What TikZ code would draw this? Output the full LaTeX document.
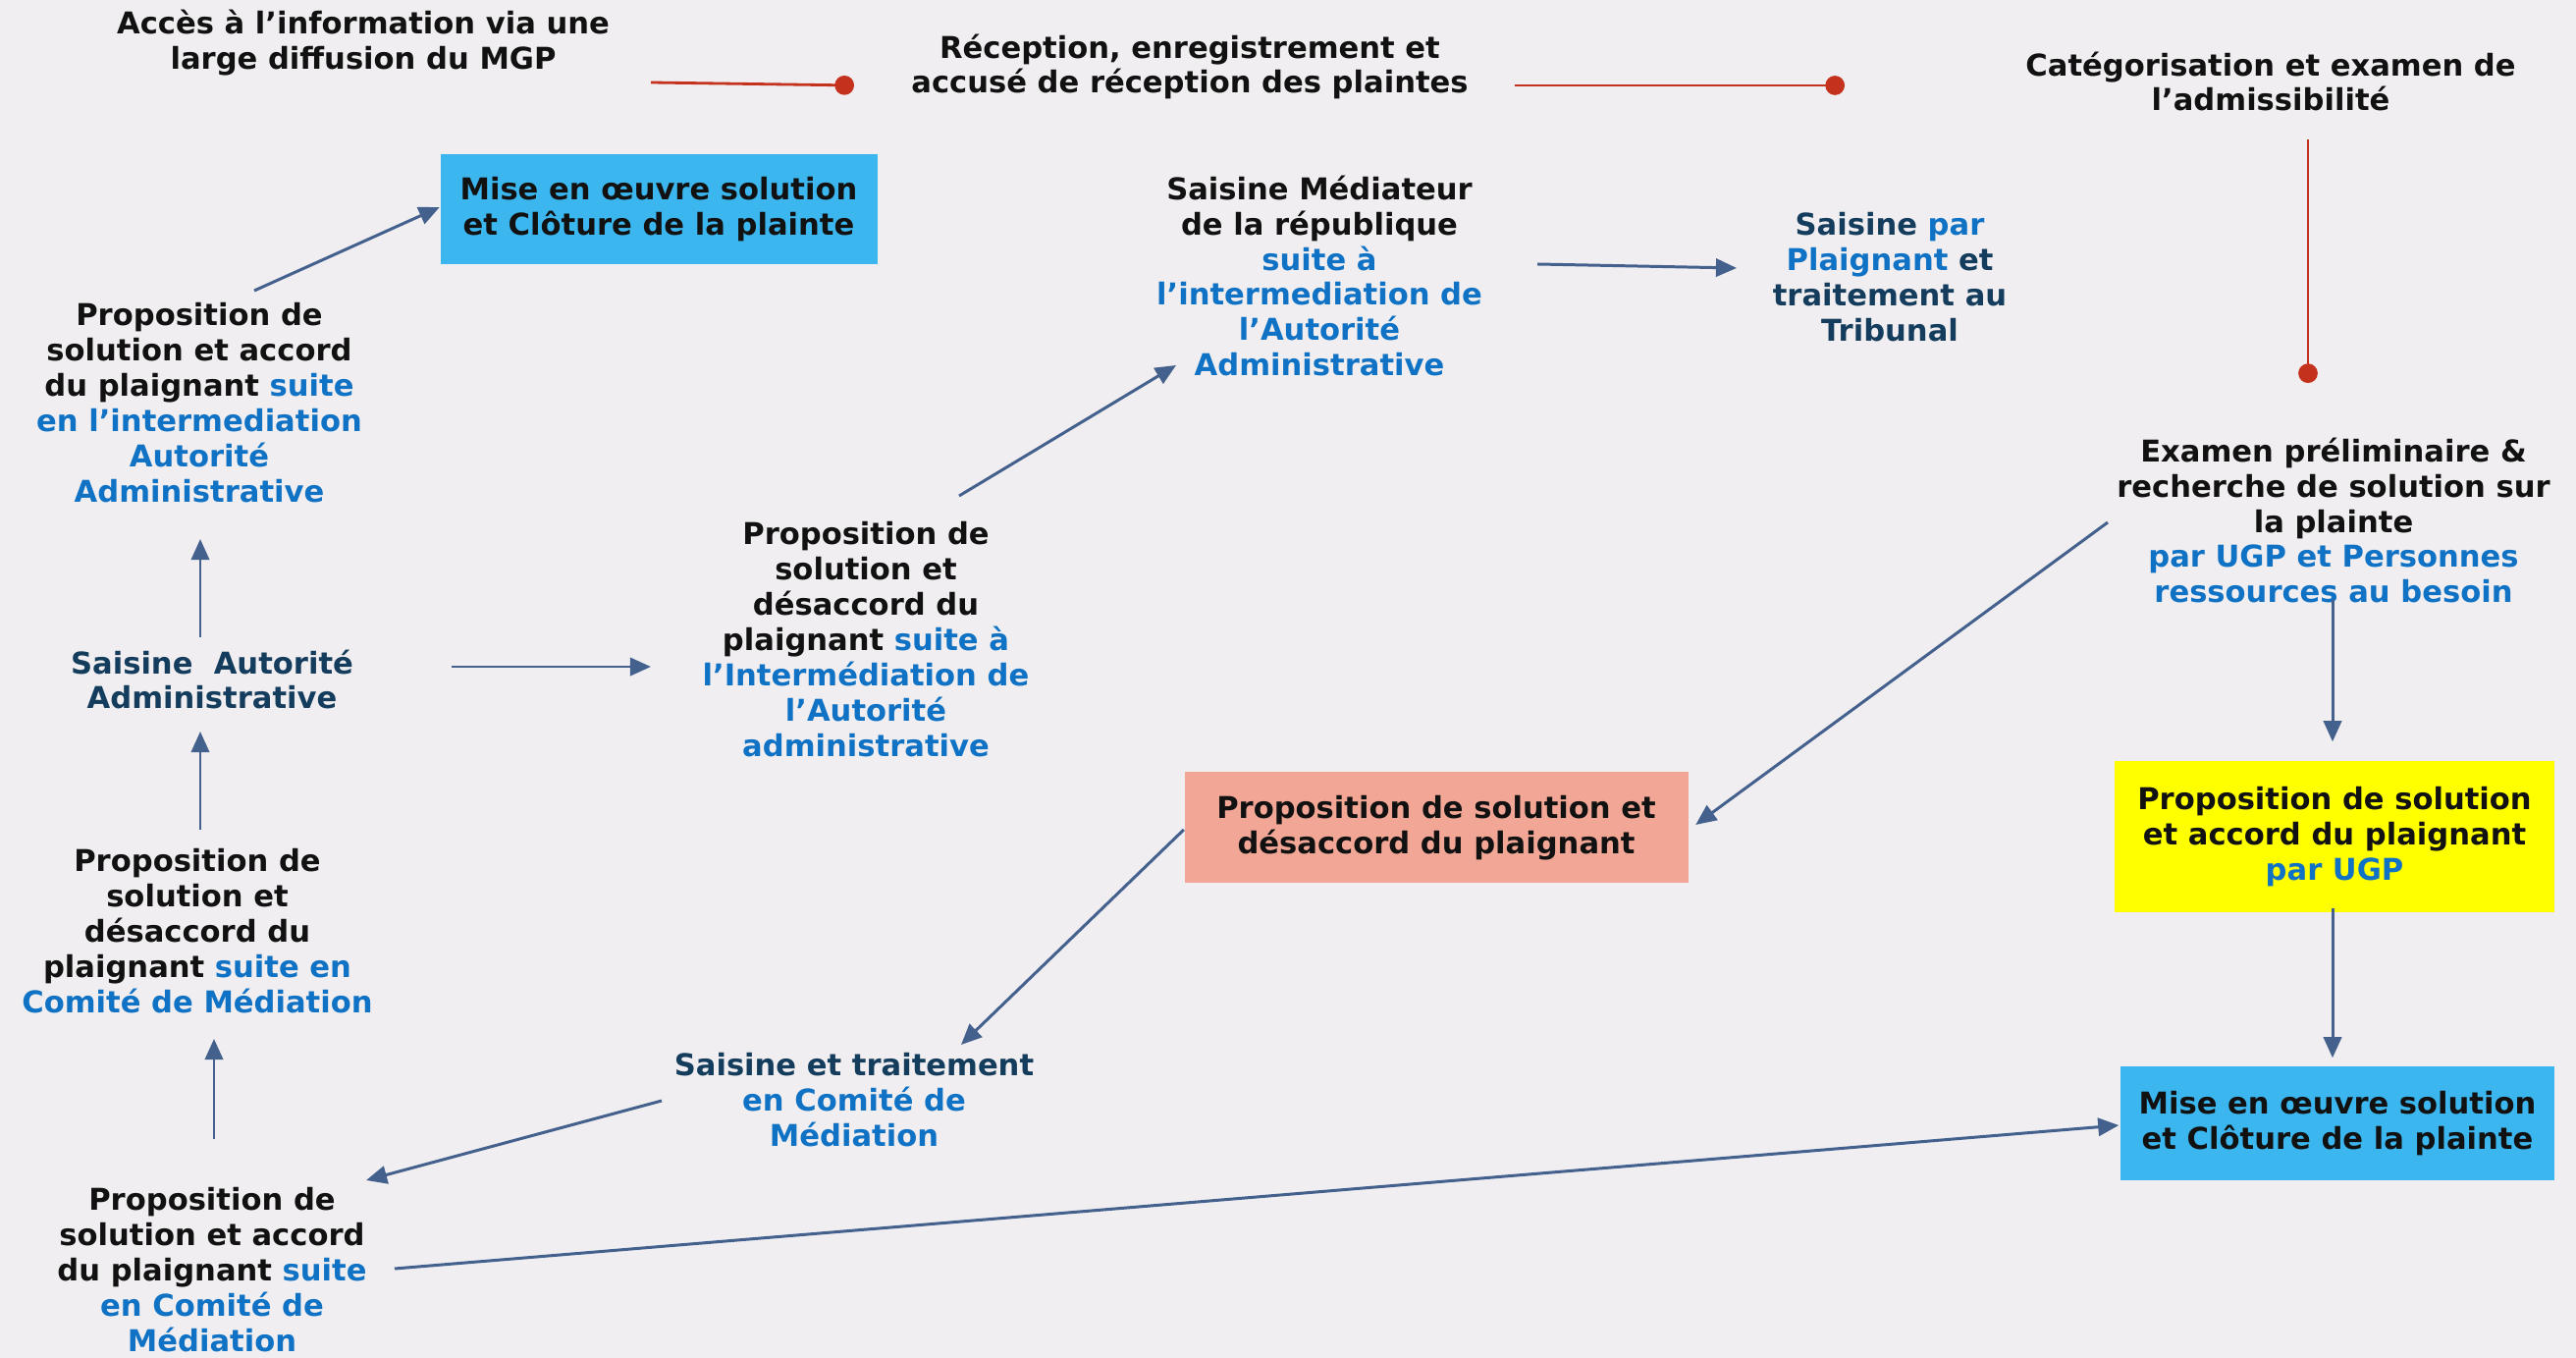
\documentclass[tikz,border=0pt]{standalone}
\usepackage{fontspec}
\setmainfont{DejaVu Sans}
\usetikzlibrary{arrows.meta,calc}
\definecolor{bg}{RGB}{240,238,240}
\definecolor{cb}{RGB}{16,114,196}
\definecolor{teal}{RGB}{20,60,92}
\definecolor{tx}{RGB}{17,17,17}
\definecolor{arrc}{RGB}{68,97,142}
\definecolor{redc}{RGB}{196,50,30}
\definecolor{boxblue}{RGB}{60,182,238}
\definecolor{boxpink}{RGB}{242,167,150}
\definecolor{boxyel}{RGB}{255,255,0}
\newcommand{\bl}[1]{\textcolor{cb}{#1}}
\newcommand{\tl}[1]{\textcolor{teal}{#1}}
\begin{document}
\begin{tikzpicture}[x=0.01cm,y=-0.01cm,
  txt/.style={inner sep=0pt,align=center,text=tx,font=\fontsize{8.7}{10.2}\selectfont\bfseries},
  arr/.style={draw=arrc,line width=0.85pt,-{Triangle[length=6pt,width=5.2pt]}},
  redl/.style={draw=redc,line width=0.8pt,-{Circle[length=5.6pt]}}]
\fill[bg] (0,0) rectangle (2624,1383);
\useasboundingbox (0,0) rectangle (2624,1383);
% text nodes
\node[txt] (acc) at (370,44) {Accès à l’information via une\\large diffusion du MGP};
\node[txt] (rec) at (1212,68) {Réception, enregistrement et\\accusé de réception des plaintes};
\node[txt] (cat) at (2313,83) {Catégorisation et examen de\\l’admissibilité};
\node[txt] (exam) at (2377,530) {Examen préliminaire \&\\recherche de solution sur\\la plainte\\\bl{par UGP et Personnes}\\\bl{ressources au besoin}};
\node[txt,fill=boxyel,minimum width=448*0.01cm,minimum height=154*0.01cm] (ugp) at (2378,852) {Proposition de solution\\et accord du plaignant\\\bl{par UGP}};
\node[txt,fill=boxblue,minimum width=442*0.01cm,minimum height=116*0.01cm] (mise2) at (2381,1144) {Mise en œuvre solution\\et Clôture de la plainte};
\node[txt,fill=boxpink,minimum width=513*0.01cm,minimum height=113*0.01cm] (pink) at (1463,843) {Proposition de solution et\\désaccord du plaignant};
\node[txt] (sct) at (870,1120) {\tl{Saisine et traitement}\\\bl{en Comité de}\\\bl{Médiation}};
\node[txt] (blacc) at (216,1293) {Proposition de\\solution et accord\\du plaignant \bl{suite}\\\bl{en Comité de}\\\bl{Médiation}};
\node[txt] (lmid) at (201,948) {Proposition de\\solution et\\désaccord du\\plaignant \bl{suite en}\\\bl{Comité de Médiation}};
\node[txt] (sa) at (216,692) {\tl{Saisine~~Autorité}\\\tl{Administrative}};
\node[txt] (ltop) at (203,410) {Proposition de\\solution et accord\\du plaignant \bl{suite}\\\bl{en l’intermediation}\\\bl{Autorité}\\\bl{Administrative}};
\node[txt,fill=boxblue,minimum width=445*0.01cm,minimum height=112*0.01cm] (mise1) at (671,213) {Mise en œuvre solution\\et Clôture de la plainte};
\node[txt] (mid) at (882,651) {Proposition de\\solution et\\désaccord du\\plaignant \bl{suite à}\\\bl{l’Intermédiation de}\\\bl{l’Autorité}\\\bl{administrative}};
\node[txt] (med) at (1344,281) {Saisine Médiateur\\de la république\\\bl{suite à}\\\bl{l’intermediation de}\\\bl{l’Autorité}\\\bl{Administrative}};
\node[txt] (trib) at (1925,282) {\tl{Saisine} \bl{par}\\\bl{Plaignant} \tl{et}\\\tl{traitement au}\\\tl{Tribunal}};
% red connectors
\draw[redl] ($(acc)+(293,40)$) -- ($(rec)+(-342,19)$);
\draw[redl] ($(rec)+(331,19)$) -- ($(cat)+(-434,4)$);
\draw[redl] ($(cat)+(38,59)$) -- ($(exam)+(-26,-140)$);
% arrows
\draw[arr] ($(ltop)+(56,-114)$) -- ($(mise1.west)+(0,-2)$);
\draw[arr] ($(sa)+(-12,-43)$) -- ($(ltop)+(1,139)$);
\draw[arr] ($(lmid)+(3,-103)$) -- ($(sa)+(-12,53)$);
\draw[arr] ($(blacc)+(2,-133)$) -- ($(lmid)+(17,110)$);
\draw[arr] ($(sct)+(-196,1)$) -- ($(blacc)+(157,-91)$);
\draw[arr] ($(blacc)+(186,-1)$) -- ($(mise2.west)+(-1,2)$);
\draw[arr] ($(sa)+(244,-13)$) -- ($(mid)+(-219,28)$);
\draw[arr] ($(mid)+(95,-146)$) -- ($(med)+(-146,91)$);
\draw[arr] ($(med)+(222,-12)$) -- ($(trib)+(-156,-9)$);
\draw[arr] ($(exam)+(-230,2)$) -- ($(pink.east)+(7,-3)$);
\draw[arr] ($(exam)+(-1,81)$) -- ($(ugp.north)+(-2,-19)$);
\draw[arr] ($(ugp.south)+(-2,-5)$) -- ($(mise2.north)+(-5,-8)$);
\draw[arr] ($(pink.west)+(0,2)$) -- ($(sct)+(109,-56)$);
\end{tikzpicture}
\end{document}
